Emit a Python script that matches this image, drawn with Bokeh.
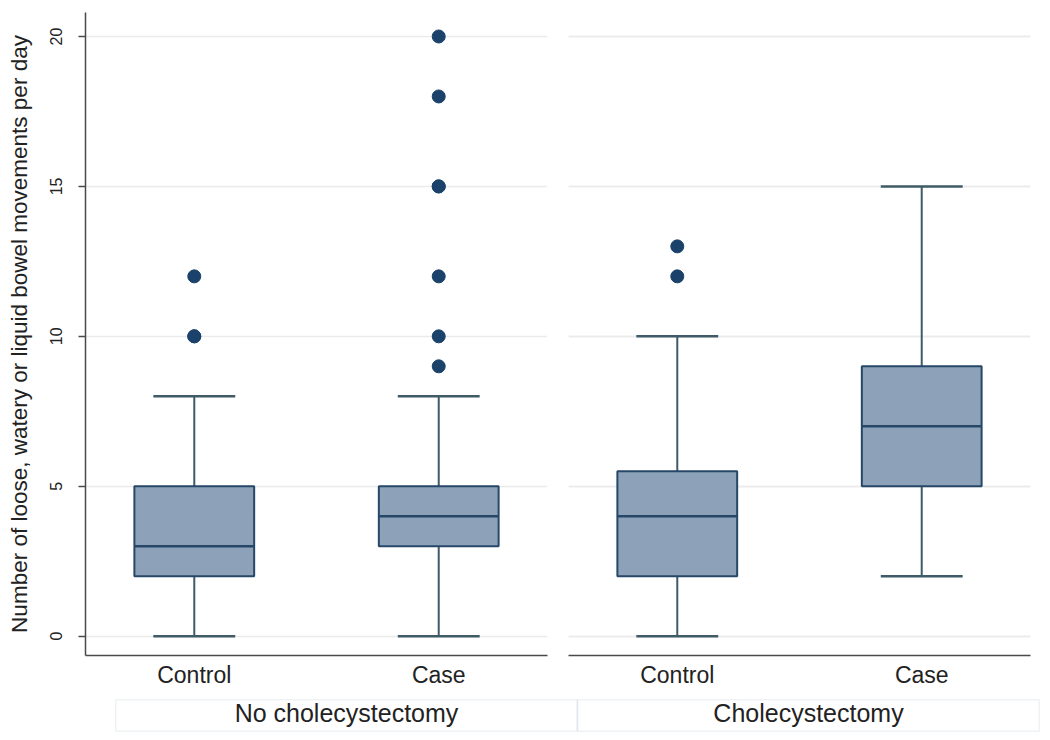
from bokeh.plotting import figure
from bokeh.layouts import column, row
from bokeh.models import Range1d, FixedTicker, Grid, ColumnDataSource
from bokeh.embed import file_html
from bokeh.resources import INLINE

# ---------------- data ----------------
groups = ["No cholecystectomy", "Cholecystectomy"]
categories = ["Control", "Case"]
# per group: [Control, Case]
wmin = [[0, 0], [0, 2]]
q1 = [[2, 3], [2, 5]]
median = [[3, 4], [4, 7]]
q3 = [[5, 5], [5.5, 9]]
wmax = [[8, 8], [10, 15]]
outliers = [
    [[10, 10, 12], [9, 10, 12, 15, 15, 18, 20]],
    [[12, 13], []],
]
y_ticks = [0, 5, 10, 15, 20]
y_label = "Number of loose, watery or liquid bowel movements per day"

# ---------------- style ----------------
FONT = "Liberation Sans"
BOX_FILL = "#8da2b8"
BOX_LINE = "#274769"
WHISK = "#3f5b67"
DOT = "#1b426b"
GRID = "#ebebeb"
AXIS = "#4a4a4a"
TXT = "#222222"
BOX_W = 0.49
CAP_W = 0.335
X_RANGE = (0.555, 2.445)
Y_RANGE = (-0.645, 20.8)
FRAME_W = 462
FRAME_H = 643
TOP = 12
BOTTOM = 42


def make_panel(g, first):
    if first:
        p = figure(width=85 + FRAME_W + 10, height=TOP + FRAME_H + BOTTOM,
                   x_range=Range1d(*X_RANGE), y_range=Range1d(*Y_RANGE),
                   output_backend="svg", toolbar_location=None,
                   min_border_left=85, min_border_right=10,
                   min_border_top=TOP, min_border_bottom=BOTTOM)
    else:
        p = figure(width=11 + FRAME_W + 10, height=TOP + FRAME_H + BOTTOM,
                   x_range=Range1d(*X_RANGE), y_range=Range1d(*Y_RANGE),
                   output_backend="svg", toolbar_location=None,
                   y_axis_location=None,
                   min_border_left=11, min_border_right=10,
                   min_border_top=TOP, min_border_bottom=BOTTOM)
        p.add_layout(Grid(dimension=1, ticker=FixedTicker(ticks=y_ticks),
                          grid_line_color=GRID, grid_line_width=1.5))
    p.outline_line_color = None
    p.background_fill_color = "white"
    p.border_fill_color = "white"
    p.xgrid.visible = False
    p.ygrid.grid_line_color = GRID
    p.ygrid.grid_line_width = 1.5
    p.ygrid.ticker = FixedTicker(ticks=y_ticks)

    xs = [i + 1 for i in range(len(categories))]
    src = ColumnDataSource(dict(
        x=xs, lo=wmin[g], q1=q1[g], med=median[g], q3=q3[g], hi=wmax[g],
        bl=[x - BOX_W / 2 for x in xs], br=[x + BOX_W / 2 for x in xs],
        cl=[x - CAP_W / 2 for x in xs], cr=[x + CAP_W / 2 for x in xs],
    ))
    # whiskers
    p.segment(x0="x", y0="q3", x1="x", y1="hi", source=src, line_color=WHISK, line_width=2)
    p.segment(x0="x", y0="lo", x1="x", y1="q1", source=src, line_color=WHISK, line_width=2)
    p.segment(x0="cl", y0="hi", x1="cr", y1="hi", source=src, line_color=WHISK, line_width=2.5)
    p.segment(x0="cl", y0="lo", x1="cr", y1="lo", source=src, line_color=WHISK, line_width=2.5)
    # boxes
    p.vbar(x="x", width=BOX_W, bottom="q1", top="q3", source=src,
           fill_color=BOX_FILL, line_color=BOX_LINE, line_width=2)
    p.segment(x0="bl", y0="med", x1="br", y1="med", source=src, line_color=BOX_LINE, line_width=2.5)
    # outliers
    ox, oy = [], []
    for i, vals in enumerate(outliers[g]):
        for v in vals:
            ox.append(i + 1)
            oy.append(v)
    p.scatter(ox, oy, size=13, fill_color=DOT, line_color=DOT)

    # x axis
    xa = p.xaxis[0]
    xa.ticker = FixedTicker(ticks=xs)
    xa.major_label_overrides = {x: c for x, c in zip(xs, categories)}
    xa.major_tick_line_color = None
    xa.minor_tick_line_color = None
    xa.axis_line_color = AXIS
    xa.axis_line_width = 1.5
    xa.major_label_text_font = FONT
    xa.major_label_text_font_size = "23px"
    xa.major_label_text_color = TXT
    xa.major_label_standoff = 0

    if first:
        ya = p.yaxis[0]
        ya.ticker = FixedTicker(ticks=y_ticks)
        ya.axis_line_color = AXIS
        ya.axis_line_width = 1.5
        ya.major_tick_line_color = AXIS
        ya.major_tick_line_width = 1.5
        ya.major_tick_out = 7
        ya.major_tick_in = 0
        ya.minor_tick_line_color = None
        ya.major_label_orientation = "vertical"
        ya.major_label_text_font = FONT
        ya.major_label_text_font_size = "16px"
        ya.major_label_text_color = TXT
        ya.major_label_standoff = 16
        ya.axis_label = y_label
        ya.axis_label_text_font = FONT
        ya.axis_label_text_font_size = "22.5px"
        ya.axis_label_text_font_style = "normal"
        ya.axis_label_text_color = TXT
        ya.axis_label_standoff = 16
    return p


p1 = make_panel(0, True)
p2 = make_panel(1, False)

# strip with group labels
strip = figure(width=1040, height=35, x_range=Range1d(0, len(groups)), y_range=Range1d(0, 1),
               output_backend="svg", toolbar_location=None,
               x_axis_location=None, y_axis_location=None,
               min_border_left=115, min_border_right=1, min_border_top=2, min_border_bottom=1)
strip.outline_line_color = None
strip.grid.visible = False
gx = [i + 0.5 for i in range(len(groups))]
strip.rect(x=gx, y=[0.5] * len(groups), width=1, height=1,
           fill_color="white", line_color="#dfe6ec", line_width=1.5)
strip.text(x=gx, y=[0.58] * len(groups), text=groups, text_align="center",
           text_baseline="middle", text_font_size="25px", text_color=TXT,
           text_font={"value": FONT})

layout = column(row(p1, p2), strip)
open("out.html", "w").write(file_html(layout, INLINE))
